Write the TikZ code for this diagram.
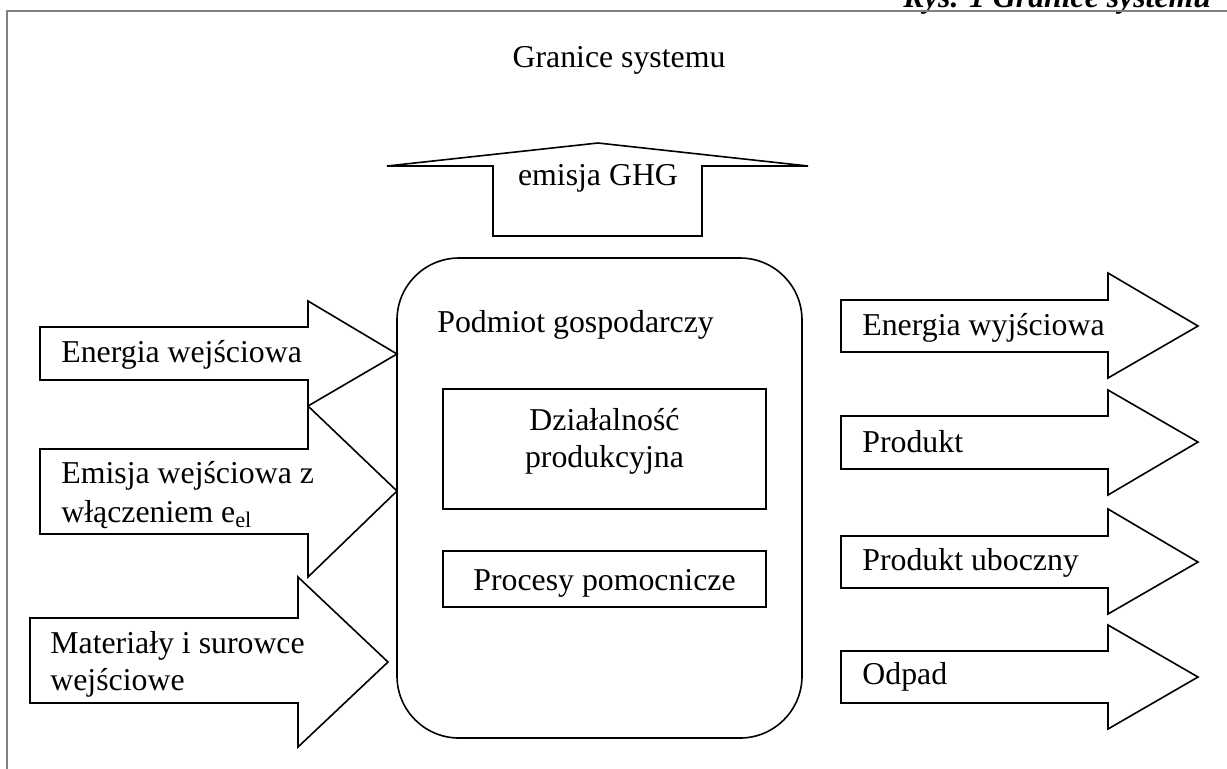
\documentclass[tikz,border=0pt]{standalone}
\usepackage{fontspec}
\setmainfont{Liberation Serif}
\begin{document}
\begin{tikzpicture}[x=0.5pt,y=-0.5pt,
  every node/.style={font=\fontsize{15.9}{19}\selectfont, inner sep=0pt},
  blk/.style={draw=black, line width=0.8pt, fill=white, line join=miter},
  lbl/.style={anchor=base west},
  ctr/.style={anchor=base},
  frameline/.style={draw=black!50, line width=1pt}]
\useasboundingbox (0,0) rectangle (1227,768);
\clip (0,0) rectangle (1227,768);
% title and frame
\node[lbl, font=\fontsize{15.9}{19}\selectfont\bfseries\itshape] (title) at (903,7) {Rys. 1 Granice systemu};
\draw[frameline] (7,790) -- (7,11) -- (1240,11);
\node[ctr] (granice) at (619,67) {Granice systemu};
% GHG arrow
\draw[blk] (493,236) -- (493,166) -- (387,166) -- (598,143) -- (808,166) -- (702,166) -- (702,236) -- cycle;
\node[ctr] (ghg) at (598,185) {emisja GHG};
% input arrows
\draw[blk] (40,327) -- (308,327) -- (308,301) -- (397,354) -- (308,406) -- (308,380) -- (40,380) -- cycle;
\draw[blk] (40,449) -- (308,449) -- (308,406) -- (397,491) -- (308,577) -- (308,534) -- (40,534) -- cycle;
\draw[blk] (30,618) -- (298,618) -- (298,577) -- (388,662) -- (298,747) -- (298,703) -- (30,703) -- cycle;
\node[lbl] (in1) at (61,362) {Energia wejściowa};
\node[lbl] (in2a) at (61,483) {Emisja wejściowa z};
\node[lbl] (in2b) at (61,522) {włączeniem e\textsubscript{el}};
\node[lbl] (in3a) at (50,653) {Materiały i surowce};
\node[lbl] (in3b) at (50,690) {wejściowe};
% central entity
\node[draw, line width=0.8pt, rounded corners=31pt, minimum width=202.5pt, minimum height=240pt] (podmiot) at (599.5,498) {};
\node[lbl] (podmiotlbl) at (437,332) {Podmiot gospodarczy};
\node[draw, line width=0.8pt, minimum width=161.5pt, minimum height=60pt] (dzial) at (604.5,449) {};
\node[ctr] (dziala) at (604.5,430) {Działalność};
\node[ctr] (dzialb) at (604.5,467) {produkcyjna};
\node[draw, line width=0.8pt, minimum width=161.5pt, minimum height=28pt] (proc) at (604.5,579) {};
\node[ctr] (procl) at (604.5,590) {Procesy pomocnicze};
% output arrows
\draw[blk] (841,300) -- (1108,300) -- (1108,273) -- (1198,326) -- (1108,378) -- (1108,352) -- (841,352) -- cycle;
\draw[blk] (841,416) -- (1108,416) -- (1108,390) -- (1198,442) -- (1108,495) -- (1108,469) -- (841,469) -- cycle;
\draw[blk] (841,536) -- (1108,536) -- (1108,509) -- (1198,562) -- (1108,614) -- (1108,588) -- (841,588) -- cycle;
\draw[blk] (841,651) -- (1108,651) -- (1108,625) -- (1198,677) -- (1108,729) -- (1108,703) -- (841,703) -- cycle;
\node[lbl] (out1) at (862,335) {Energia wyjściowa};
\node[lbl] (out2) at (862,452) {Produkt};
\node[lbl] (out3) at (862,570) {Produkt uboczny};
\node[lbl] (out4) at (862,684) {Odpad};
\end{tikzpicture}
\end{document}
